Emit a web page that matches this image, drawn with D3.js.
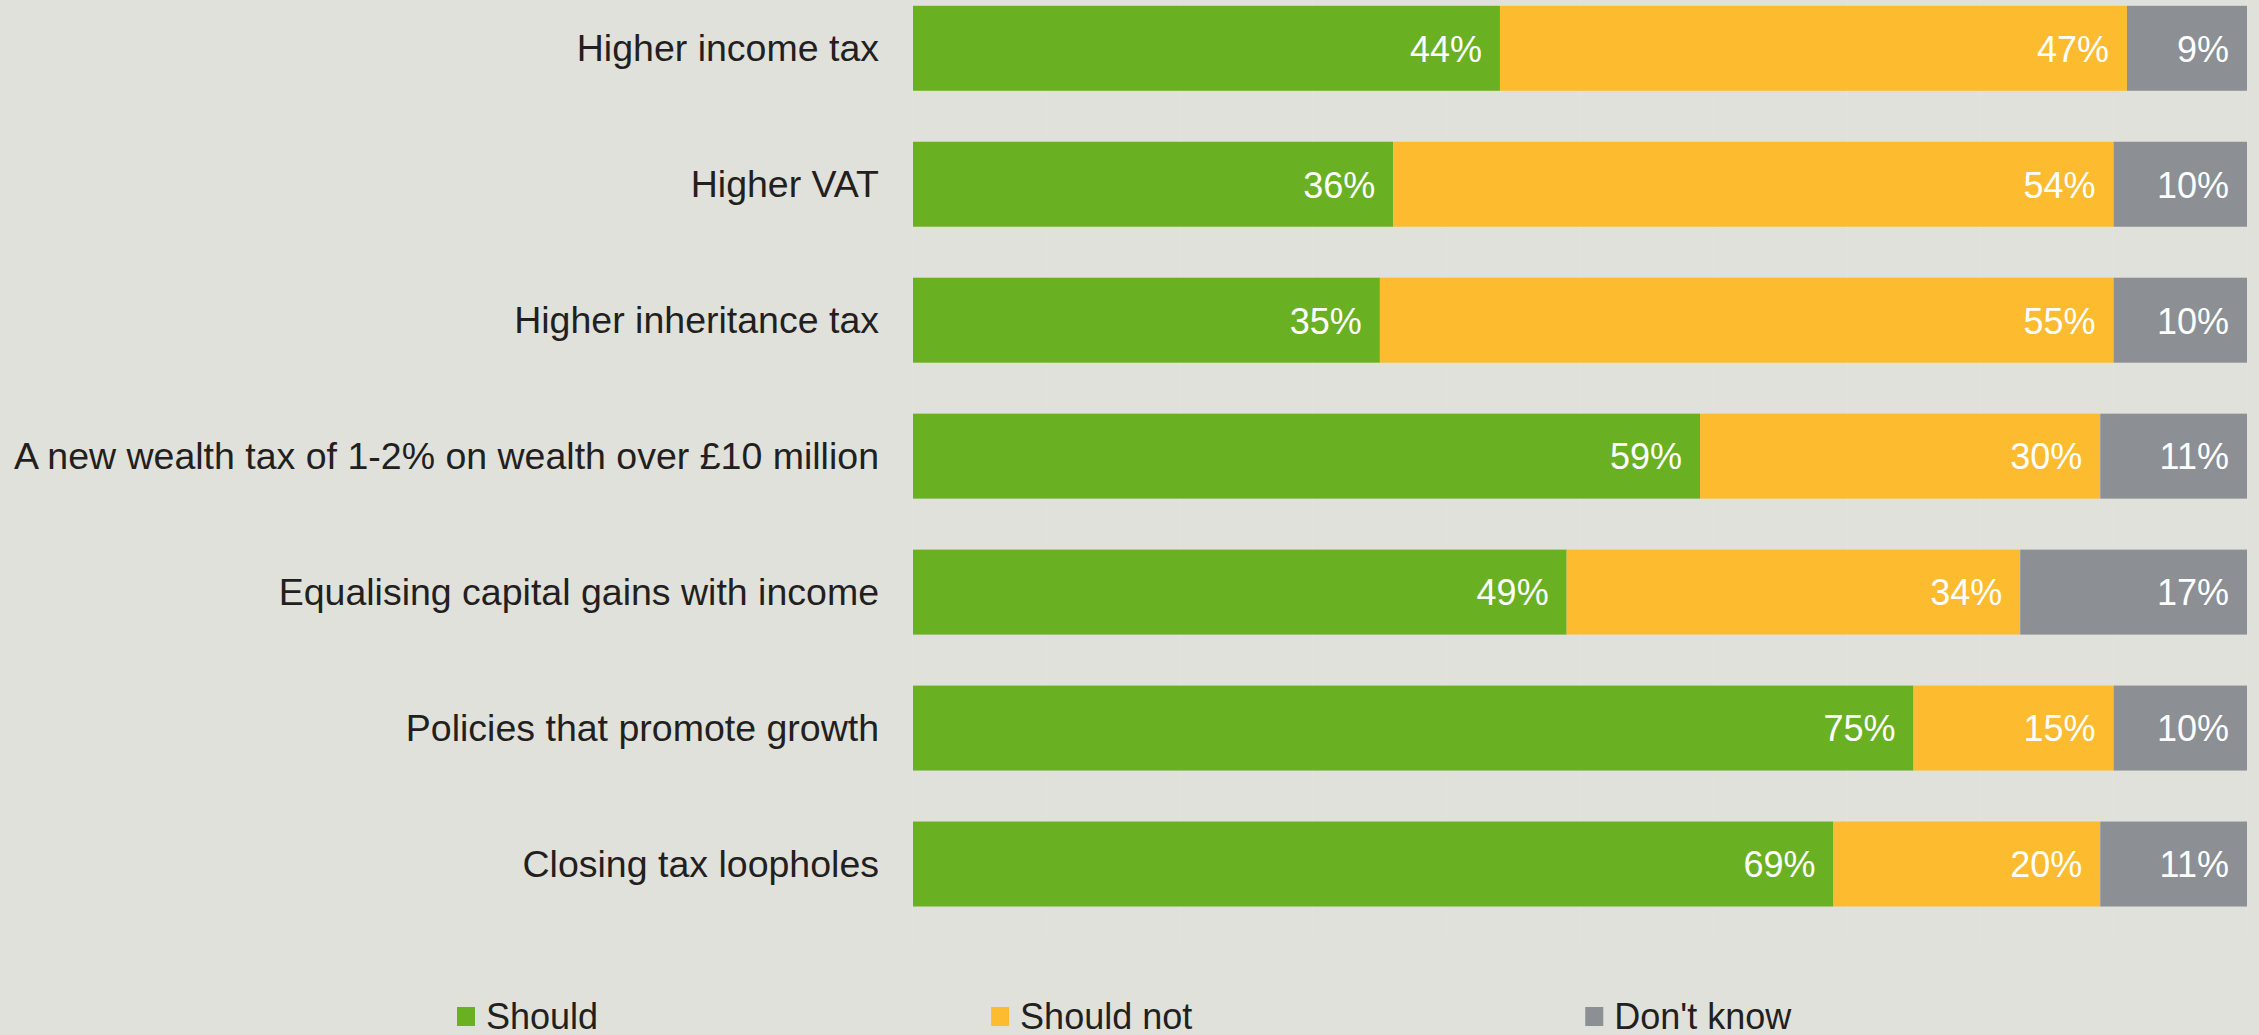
<!DOCTYPE html>
<html>
<head>
<meta charset="utf-8">
<script src="https://cdn.jsdelivr.net/npm/d3@7"></script>
<style>
  html, body { margin: 0; padding: 0; background: #E0E1DA; }
  svg { display: block; font-family: "Liberation Sans", Arial, sans-serif; }
</style>
</head>
<body>
<svg id="chart" width="2259" height="1035"></svg>
<script>
// Survey responses: should the government raise money through each policy?
const categories = [
  "Higher income tax",
  "Higher VAT",
  "Higher inheritance tax",
  "A new wealth tax of 1-2% on wealth over £10 million",
  "Equalising capital gains with income",
  "Policies that promote growth",
  "Closing tax loopholes"
];
const series = ["Should", "Should not", "Don't know"];
const shouldValues    = [44, 36, 35, 59, 49, 75, 69];
const shouldNotValues = [47, 54, 55, 30, 34, 15, 20];
const dontKnowValues  = [9, 10, 10, 11, 17, 10, 11];
const gridTicks = [0, 10, 20, 30, 40, 50, 60, 70, 80, 90, 100];

const colors = ["#6AB023", "#FDBB30", "#8C8F93"];

const rows = categories.map((c, i) => ({
  category: c,
  "Should": shouldValues[i],
  "Should not": shouldNotValues[i],
  "Don't know": dontKnowValues[i]
}));

const stacked = d3.stack().keys(series)(rows);

const svg = d3.select("#chart");
const margin = { left: 913, right: 12, top: 0 };
const plotW = 2259 - margin.left - margin.right;

const x = d3.scaleLinear().domain([0, 100]).range([margin.left, margin.left + plotW]);
const y = d3.scaleBand().domain(categories).range([-19.7, 932]).paddingInner(0.375).paddingOuter(0.1875);

// Faint vertical gridlines
svg.append("g")
  .selectAll("line")
  .data(gridTicks)
  .join("line")
  .attr("x1", d => x(d)).attr("x2", d => x(d))
  .attr("y1", 0).attr("y2", 940)
  .attr("stroke", "#E3E4DE")
  .attr("stroke-width", 1);

// Stacked bar segments
const layer = svg.append("g")
  .selectAll("g")
  .data(stacked)
  .join("g")
  .attr("fill", (d, i) => colors[i]);

layer.selectAll("rect")
  .data(d => d.map(s => ({ s, key: d.key })))
  .join("rect")
  .attr("x", d => x(d.s[0]))
  .attr("width", d => x(d.s[1]) - x(d.s[0]))
  .attr("y", d => y(d.s.data.category))
  .attr("height", y.bandwidth());

// Value labels, right-aligned within each segment
layer.selectAll("text")
  .data(d => d.map(s => ({ s, key: d.key })))
  .join("text")
  .attr("x", d => x(d.s[1]) - 18)
  .attr("y", d => y(d.s.data.category) + y.bandwidth() / 2)
  .attr("dy", "0.37em")
  .attr("text-anchor", "end")
  .attr("fill", "#FFFFFF")
  .attr("font-size", 36)
  .text(d => d.s.data[d.key] + "%");

// Category labels
svg.append("g")
  .selectAll("text")
  .data(categories)
  .join("text")
  .attr("x", margin.left - 34)
  .attr("y", d => y(d) + y.bandwidth() / 2)
  .attr("dy", "0.35em")
  .attr("text-anchor", "end")
  .attr("fill", "#231F20")
  .attr("font-size", 37.5)
  .text(d => d);

// Legend
const legend = svg.append("g").attr("transform", "translate(457,0)");
let lx = 0;
series.forEach((name, i) => {
  const g = legend.append("g").attr("transform", `translate(${lx},0)`);
  g.append("rect")
    .attr("x", 0).attr("y", 1007)
    .attr("width", 18).attr("height", 19)
    .attr("fill", colors[i]);
  const t = g.append("text")
    .attr("x", 29).attr("y", 1029)
    .attr("fill", "#231F20")
    .attr("font-size", 36)
    .text(name);
  lx += 29 + t.node().getComputedTextLength() + 393;
});
</script>
</body>
</html>
